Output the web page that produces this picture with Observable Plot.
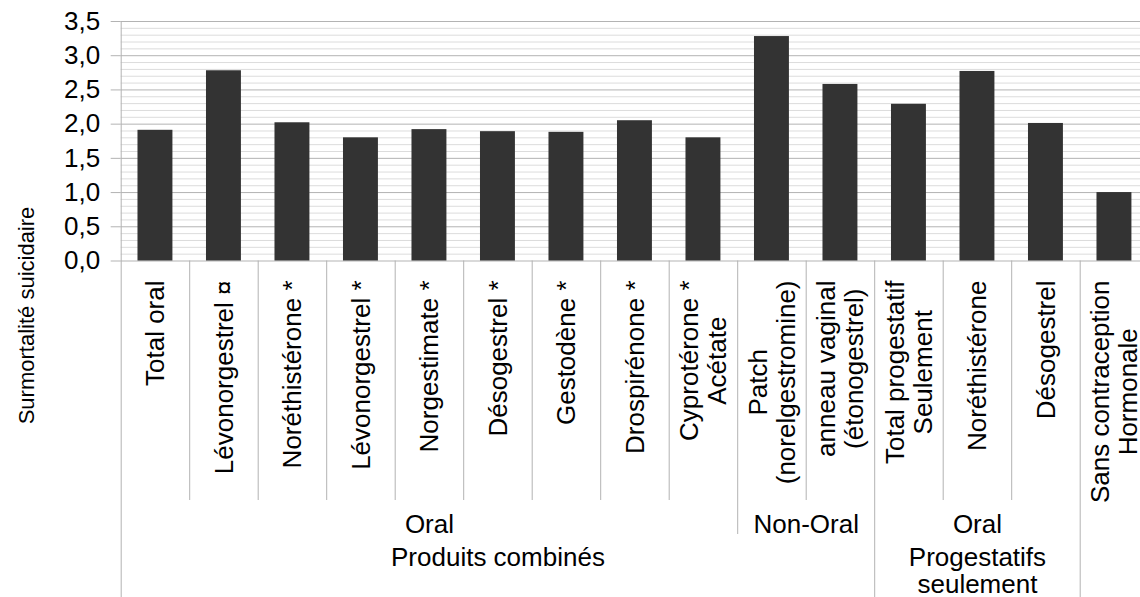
<!DOCTYPE html>
<html><head><meta charset="utf-8">
<script src="https://cdn.jsdelivr.net/npm/d3@7"></script>
<script src="https://cdn.jsdelivr.net/npm/@observablehq/plot@0.6"></script>
<style>html,body{margin:0;padding:0;background:#fff;} svg{display:block;}</style>
</head><body><div id="chart"></div>
<script>
// ---- data ----
const categories = [
  "Total oral", "Lévonorgestrel ¤", "Noréthistérone *", "Lévonorgestrel *", "Norgestimate *",
  "Désogestrel *", "Gestodène *", "Drospirénone *", "Cyprotérone * Acétate",
  "Patch (norelgestromine)", "anneau vaginal (étonogestrel)", "Total progestatif Seulement",
  "Noréthistérone", "Désogestrel", "Sans contraception Hormonale"
];
const categoryLabels = [
  "Total oral", "Lévonorgestrel ¤", "Noréthistérone *", "Lévonorgestrel *", "Norgestimate *",
  "Désogestrel *", "Gestodène *", "Drospirénone *", "Cyprotérone *\nAcétate",
  "Patch\n(norelgestromine)", "anneau vaginal\n(étonogestrel)", "Total progestatif\nSeulement",
  "Noréthistérone", "Désogestrel", "Sans contraception\nHormonale"
];
const values = [1.91, 2.78, 2.02, 1.80, 1.92, 1.89, 1.88, 2.05, 1.80, 3.28, 2.58, 2.29, 2.77, 2.01, 1.00];
const level2 = ["Oral","Oral","Oral","Oral","Oral","Oral","Oral","Oral","Oral","Non-Oral","Non-Oral","Oral","Oral","Oral",""];
const level3 = ["Produits combinés","Produits combinés","Produits combinés","Produits combinés","Produits combinés",
  "Produits combinés","Produits combinés","Produits combinés","Produits combinés","Produits combinés","Produits combinés",
  "Progestatifs\nseulement","Progestatifs\nseulement","Progestatifs\nseulement",""];
const yTicks = [0, 0.5, 1, 1.5, 2, 2.5, 3, 3.5];
const yTitle = "Surmortalité suicidaire";

// ---- layout ----
const W = 1140, H = 597;
const mLeft = 120.7, mTop = 21, frameBottom = 260.5;
const step = 68.5;
const xRange = [mLeft, mLeft + step * categories.length];
const FS = 26;
const FONT = "'Liberation Sans', Arial, sans-serif";
const labelTop = 280;

const ctx = document.createElement("canvas").getContext("2d");
ctx.font = `${FS}px 'Liberation Sans'`;
const measure = s => Math.max(...s.split("\n").map(l => ctx.measureText(l).width));

const data = categories.map((c, i) => ({cat: c, value: values[i]}));
const minor = d3.range(1, 35).map(i => i / 10).filter((v, i) => (i + 1) % 5 !== 0);

const bounds = categories.map((c, i) => {
  let end;
  if (i === 0 || level3[i] !== level3[i - 1]) end = H;
  else if (level2[i] !== level2[i - 1]) end = 534;
  else end = 500;
  return {cat: c, end, first: i === 0};
});

function runs(levels) {
  const out = [];
  levels.forEach((g, i) => {
    if (i > 0 && levels[i - 1] === g && out.length) out[out.length - 1].n++;
    else out.push({label: g, cat: categories[i], n: 1});
  });
  return out.filter(r => r.label);
}

const marks = [
  Plot.ruleY(minor, {stroke: "#dcdcdc"}),
  Plot.ruleY(yTicks, {stroke: "#b3b3b3"}),
  Plot.barY(data, {x: "cat", y: "value", fill: "#333333"}),
  Plot.axisY(yTicks, {
    tickFormat: d => d.toFixed(1).replace(".", ","),
    tickSize: 10, tickPadding: 11, stroke: "#b3b3b3", fill: "#000", fontSize: FS, label: null
  }),
];
for (const b of bounds) {
  marks.push(Plot.ruleX([b.cat], {
    x: d => d, dx: -step / 2, stroke: "#b3b3b3",
    insetTop: b.first ? 0 : frameBottom - mTop,
    insetBottom: -(b.end - frameBottom)
  }));
}
categories.forEach((c, i) => {
  const w = measure(categoryLabels[i]);
  marks.push(Plot.text([c], {
    x: d => d, text: () => categoryLabels[i], frameAnchor: "bottom",
    dy: labelTop - frameBottom + w / 2, rotate: -90, textAnchor: "middle", lineAnchor: "middle",
    lineHeight: 1.07, fontSize: FS, fill: "#000"
  }));
});
for (const r of runs(level2)) {
  marks.push(Plot.text([r], {
    x: "cat", text: "label", dx: (r.n - 1) * step / 2, frameAnchor: "bottom",
    dy: 514.5 - frameBottom, lineAnchor: "top", fontSize: FS, fill: "#000"
  }));
}
for (const r of runs(level3)) {
  marks.push(Plot.text([r], {
    x: "cat", text: "label", dx: (r.n - 1) * step / 2, frameAnchor: "bottom",
    dy: 545.5 - frameBottom, lineAnchor: "top", lineHeight: 1.06, fontSize: FS, fill: "#000"
  }));
}
marks.push(Plot.text([yTitle], {
  text: d => d, frameAnchor: "left", dx: 26 - mLeft, dy: 315 - (mTop + frameBottom) / 2,
  rotate: -90, textAnchor: "middle", lineAnchor: "middle", fontSize: 22, fill: "#000"
}));

const chart = Plot.plot({
  width: W, height: H,
  marginLeft: mLeft, marginTop: mTop, marginBottom: H - frameBottom, marginRight: 0,
  style: {fontFamily: FONT, fontSize: FS + "px", background: "#fff", color: "#000"},
  x: {domain: categories, range: xRange, paddingInner: 0.49, paddingOuter: 0.245, round: false, axis: null},
  y: {domain: [0, 3.5], label: null},
  marks
});
document.getElementById("chart").append(chart);
</script>
</body></html>
